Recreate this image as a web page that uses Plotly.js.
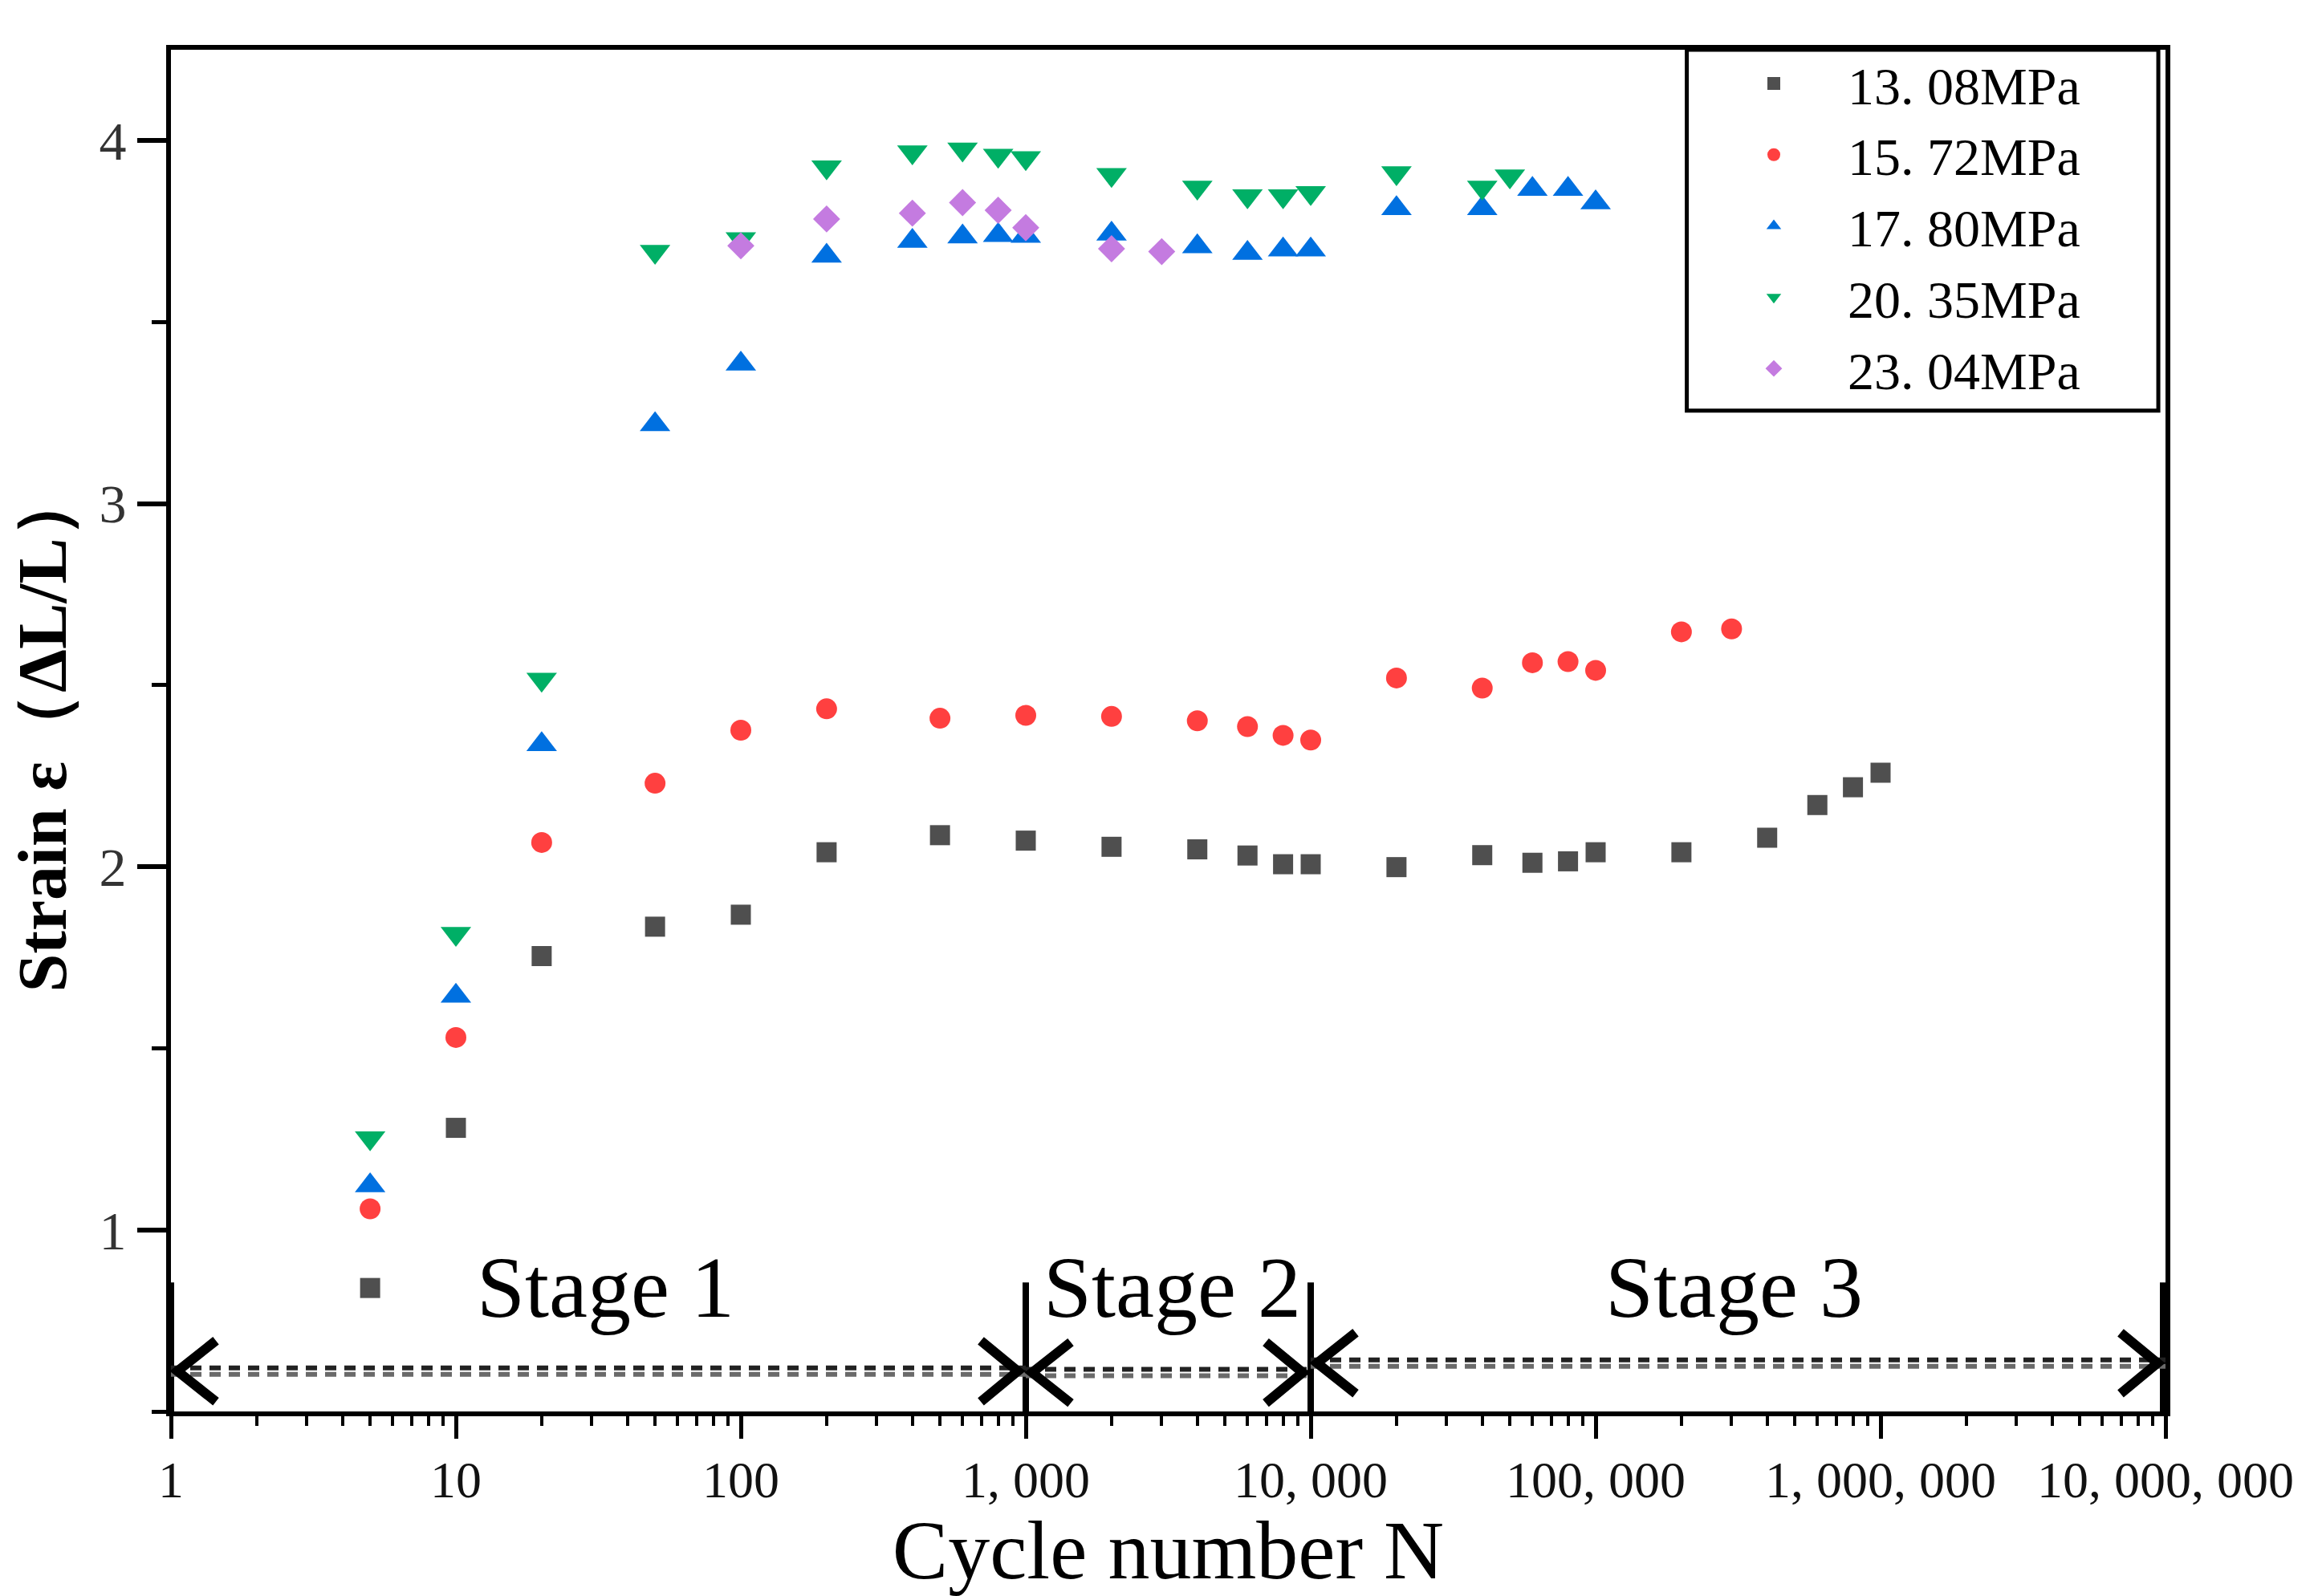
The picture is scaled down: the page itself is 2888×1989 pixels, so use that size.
<!DOCTYPE html>
<html>
<head>
<meta charset="utf-8">
<script src="https://cdn.plot.ly/plotly-3.0.1.min.js"></script>
<style>html,body{margin:0;padding:0;background:#fff;}#chart{width:2888px;height:1989px;}</style>
</head>
<body>
<div id="chart"></div>
<script>
// ---- data ----
const seriesNames = ['13. 08MPa', '15. 72MPa', '17. 80MPa', '20. 35MPa', '23. 04MPa'];

const cycles1308 = [5, 10, 20, 50, 100, 200, 500, 1000, 2000, 4000, 6000, 8000, 10000, 20000, 40000, 60000, 80000, 100000, 200000, 400000, 600000, 800000, 1000000];
const strain1308 = [0.84, 1.281, 1.754, 1.835, 1.868, 2.04, 2.087, 2.072, 2.055, 2.048, 2.031, 2.007, 2.007, 1.999, 2.032, 2.011, 2.015, 2.040, 2.040, 2.080, 2.170, 2.219, 2.259];

const cycles1572 = [5, 10, 20, 50, 100, 200, 500, 1000, 2000, 4000, 6000, 8000, 10000, 20000, 40000, 60000, 80000, 100000, 200000, 300000];
const strain1572 = [1.058, 1.530, 2.067, 2.230, 2.376, 2.435, 2.409, 2.417, 2.414, 2.402, 2.386, 2.362, 2.349, 2.520, 2.492, 2.562, 2.565, 2.541, 2.647, 2.655];

const cycles1780 = [5, 10, 20, 50, 100, 200, 400, 600, 800, 1000, 2000, 4000, 6000, 8000, 10000, 20000, 40000, 60000, 80000, 100000];
const strain1780 = [1.122, 1.644, 2.337, 3.218, 3.385, 3.682, 3.723, 3.735, 3.739, 3.737, 3.743, 3.708, 3.690, 3.699, 3.699, 3.813, 3.813, 3.866, 3.866, 3.829];

const cycles2035 = [5, 10, 20, 50, 100, 200, 400, 600, 800, 1000, 2000, 4000, 6000, 8000, 10000, 20000, 40000, 50000];
const strain2035 = [1.253, 1.816, 2.516, 3.694, 3.729, 3.927, 3.968, 3.976, 3.959, 3.952, 3.906, 3.871, 3.847, 3.847, 3.856, 3.911, 3.871, 3.902];

const cycles2304 = [100, 200, 400, 600, 800, 1000, 2000, 3000];
const strain2304 = [3.710, 3.784, 3.800, 3.829, 3.808, 3.760, 3.702, 3.694];

const xTickVals = [1, 10, 100, 1000, 10000, 100000, 1000000, 10000000];
const xTickText = ['1', '10', '100', '1, 000', '10, 000', '100, 000', '1, 000, 000', '10, 000, 000'];

const stageBounds = [1, 1000, 10000, 10000000];
const stageLabels = ['Stage 1', 'Stage 2', 'Stage 3'];

// ---- styles ----
const FONT = 'Liberation Serif, Times New Roman, serif';
const colors = ['#4f4f4f', '#ff4040', '#0070e0', '#00af66', '#c47be0'];
const symbols = ['square', 'circle', 'triangle-up', 'triangle-down', 'diamond'];
const sizes = [25, 26, 33, 33, 26];

const xs = [cycles1308, cycles1572, cycles1780, cycles2035, cycles2304];
const ys = [strain1308, strain1572, strain1780, strain2035, strain2304];

const traces = xs.map((x, i) => ({
  type: 'scatter',
  mode: 'markers',
  name: seriesNames[i],
  x: x,
  y: ys[i],
  marker: {symbol: symbols[i], color: colors[i], size: sizes[i], line: {width: 0}}
}));

// minor tick positions for the log axis (2..9 in each decade)
const minorVals = [];
for (let e = 0; e < 7; e++) {
  for (let d = 2; d <= 9; d++) minorVals.push(d * Math.pow(10, e));
}

// ---- stage markings ----
const shapes = [];
const barTop = 0.855, barBottom = 0.5;
stageBounds.forEach((b, i) => {
  shapes.push({type: 'line', xref: 'x', yref: 'y', x0: b, x1: b, y0: barBottom, y1: barTop,
    line: {color: '#000', width: i === stageBounds.length - 1 ? 14 : 8}});
});
const stageLineY = [0.611, 0.607, 0.633];
const gap = 0.0088;
for (let i = 0; i < stageLabels.length; i++) {
  const a = stageBounds[i], b = stageBounds[i + 1], yc = stageLineY[i];
  shapes.push({type: 'line', xref: 'x', yref: 'y', x0: a, x1: b, y0: yc + gap, y1: yc + gap,
    line: {color: '#222', width: 6, dash: '14px,10px'}});
  shapes.push({type: 'line', xref: 'x', yref: 'y', x0: a, x1: b, y0: yc - gap, y1: yc - gap,
    line: {color: '#6a6a6a', width: 6, dash: '14px,10px'}});
  // left chevron "<"
  shapes.push({type: 'path', xref: 'x', yref: 'y', xsizemode: 'pixel', ysizemode: 'pixel',
    xanchor: a, yanchor: yc, path: 'M 56 38 L 8 0 L 56 -38', line: {color: '#000', width: 12}});
  // right chevron ">"
  shapes.push({type: 'path', xref: 'x', yref: 'y', xsizemode: 'pixel', ysizemode: 'pixel',
    xanchor: b, yanchor: yc, path: 'M -56 38 L -10 0 L -56 -38', line: {color: '#000', width: 12}});
}
// legend frame
shapes.push({type: 'rect', xref: 'paper', yref: 'paper', x0: 0.760, x1: 0.9964, y0: 0.735, y1: 1.0,
  line: {color: '#000', width: 5}, fillcolor: 'rgba(0,0,0,0)'});

const stageTextX = [1.526, 3.513, 5.485]; // log10(N) positions of the stage captions
const annotations = stageLabels.map((t, i) => ({
  text: t, xref: 'x', yref: 'y', x: stageTextX[i], y: 0.842, showarrow: false,
  font: {family: FONT, size: 108, color: '#000'}
}));

const layout = {
  width: 2888, height: 1989,
  margin: {l: 213, r: 190, t: 62, b: 230},
  paper_bgcolor: '#fff', plot_bgcolor: '#fff',
  font: {family: FONT, color: '#000'},
  showlegend: true,
  legend: {x: 0.7666, xanchor: 'left', y: 1.0044, yanchor: 'top', bgcolor: 'rgba(0,0,0,0)',
    borderwidth: 0, font: {family: FONT, size: 66, color: '#000'}, itemwidth: 174, tracegroupgap: 0},
  xaxis: {
    type: 'log', range: [0, 7],
    tickmode: 'array', tickvals: xTickVals, ticktext: xTickText,
    ticks: 'outside', ticklen: 28, tickwidth: 5, tickcolor: '#000',
    showline: true, linewidth: 6, linecolor: '#000', mirror: true,
    showgrid: false, zeroline: false,
    tickfont: {family: FONT, size: 64, color: '#111'},
    ticklabelstandoff: -4,
    minor: {tickmode: 'array', tickvals: minorVals, ticks: 'outside', ticklen: 12, tickwidth: 4, tickcolor: '#000', showgrid: false},
    title: {text: 'Cycle number N', font: {family: FONT, size: 104, color: '#000'}, standoff: 2}
  },
  yaxis: {
    range: [0.5, 4.25], tickmode: 'linear', tick0: 0, dtick: 1,
    ticks: 'outside', ticklen: 36, tickwidth: 6, tickcolor: '#000',
    showline: true, linewidth: 6, linecolor: '#000', mirror: true,
    showgrid: false, zeroline: false,
    tickfont: {family: FONT, size: 68, color: '#333'},
    ticklabelstandoff: 0,
    minor: {dtick: 0.5, tick0: 0, ticks: 'outside', ticklen: 18, tickwidth: 5, tickcolor: '#000', showgrid: false},
    title: {text: 'Strain ε（ΔL/L）', font: {family: FONT, size: 86, color: '#000', weight: 'bold'}, standoff: 14}
  },
  shapes: shapes,
  annotations: annotations
};

Plotly.newPlot('chart', traces, layout, {displayModeBar: false, staticPlot: true});
</script>
</body>
</html>
